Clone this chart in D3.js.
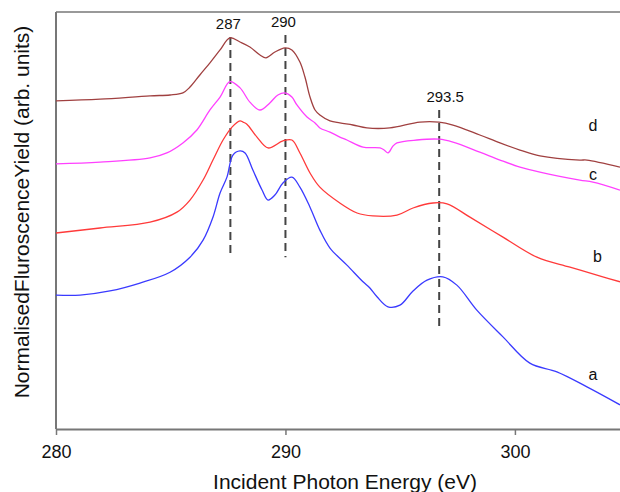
<!DOCTYPE html>
<html lang="en">
<head>
<meta charset="UTF-8">
<script src="https://d3js.org/d3.v7.min.js"></script>
<style>
  body { margin: 0; background: #fff; }
  svg { display: block; font-family: "Liberation Sans", Arial, sans-serif; }
</style>
</head>
<body>
<div id="chart"></div>
<script>
// energy (eV) vs normalised yield (arb. units)
const curveA = [
  [280.00, 3.21], [281.05, 3.21], [282.35, 3.31], [283.66, 3.50], [284.97, 3.76],
  [285.84, 4.12], [286.41, 4.53], [286.84, 5.08], [287.15, 5.66], [287.45, 6.04],
  [287.71, 6.57], [288.02, 6.67], [288.24, 6.62], [288.58, 6.21], [288.98, 5.73],
  [289.24, 5.49], [289.54, 5.61], [289.89, 5.90], [290.28, 6.04], [290.63, 5.80],
  [291.07, 5.32], [291.50, 4.77], [291.94, 4.34], [292.68, 3.93], [293.38, 3.53],
  [293.68, 3.38], [293.99, 3.17], [294.47, 2.93], [294.99, 2.97], [295.56, 3.31],
  [296.17, 3.57], [296.86, 3.65], [297.47, 3.45], [298.34, 2.85], [299.48, 2.21],
  [300.65, 1.58], [301.83, 1.37], [303.14, 1.01], [304.58, 0.58]
];
const curveB = [
  [280.00, 4.70], [281.92, 4.82], [284.10, 4.96], [285.27, 5.20], [285.84, 5.49],
  [286.41, 5.97], [286.84, 6.45], [287.28, 6.93], [287.67, 7.24], [288.02, 7.39],
  [288.15, 7.36], [288.32, 7.31], [288.76, 7.00], [289.24, 6.74], [289.89, 6.91],
  [290.28, 6.93], [290.63, 6.62], [291.07, 6.14], [291.50, 5.80], [292.37, 5.42],
  [293.12, 5.18], [293.81, 5.11], [294.86, 5.13], [295.56, 5.30], [296.43, 5.42],
  [297.04, 5.40], [298.04, 5.08], [299.48, 4.60], [300.96, 4.12], [302.40, 3.88],
  [303.83, 3.65], [304.58, 3.53]
];
const curveC = [
  [280.00, 6.36], [281.92, 6.40], [284.10, 6.50], [284.83, 6.62], [285.53, 6.86],
  [286.14, 7.17], [286.71, 7.65], [287.15, 7.96], [287.58, 8.33], [288.02, 8.18],
  [288.45, 7.84], [288.89, 7.65], [289.32, 7.82], [289.67, 8.01], [289.98, 8.06],
  [290.28, 7.96], [290.50, 7.77], [290.94, 7.48], [291.29, 7.34], [291.50, 7.22],
  [291.94, 7.12], [292.37, 7.00], [292.68, 6.93], [293.38, 6.76], [294.12, 6.74],
  [294.30, 6.69], [294.47, 6.62], [294.68, 6.78], [294.86, 6.86], [295.73, 6.93],
  [296.69, 6.95], [297.30, 6.88], [298.47, 6.64], [299.35, 6.45], [300.22, 6.28],
  [301.09, 6.16], [302.83, 5.97], [303.40, 5.92], [304.58, 5.73]
];
const curveD = [
  [280.00, 7.87], [281.92, 7.91], [284.10, 7.99], [284.97, 8.01], [285.53, 8.06],
  [285.84, 8.20], [286.27, 8.49], [286.71, 8.78], [287.15, 9.09], [287.58, 9.38],
  [288.02, 9.28], [288.45, 9.16], [288.89, 8.97], [289.15, 8.90], [289.54, 9.04],
  [289.98, 9.14], [290.28, 9.09], [290.63, 8.80], [290.85, 8.44], [291.07, 7.96],
  [291.29, 7.65], [291.50, 7.53], [291.94, 7.39], [292.37, 7.34], [292.94, 7.29],
  [293.55, 7.22], [294.55, 7.22], [295.86, 7.36], [296.69, 7.36], [297.30, 7.29],
  [298.47, 7.05], [299.35, 6.86], [300.22, 6.69], [301.09, 6.55], [302.83, 6.45],
  [303.14, 6.45], [304.58, 6.28]
];

const seriesNames = ["a", "b", "c", "d"];
const seriesColors = ["#3a3aff", "#ff3a3a", "#ff40ff", "#a04040"];
// where each curve letter sits: [energy, yield]
const letterPos = [[303.4, 1.18], [303.6, 4.0], [303.4, 5.98], [303.4, 7.15]];

const xTicks = [280, 290, 300];
// dashed peak markers: energy, label, top & bottom yield
const markerEnergy = [287.6, 290.0, 296.7];
const markerLabels = ["287", "290", "293.5"];
const markerTop = [9.40, 9.45, 7.65];
const markerBottom = [4.12, 4.12, 2.37];

const width = 620, height = 492;
const margin = { top: 12, right: 0, bottom: 63, left: 56 };

const svg = d3.select("#chart").append("svg")
  .attr("width", width).attr("height", height);

const x = d3.scaleLinear().domain([280, 304.58]).range([margin.left, width - margin.right]);
const y = d3.scaleLinear().domain([0, 10]).range([height - margin.bottom, margin.top]);

// frame: top line
svg.append("line")
  .attr("x1", margin.left).attr("x2", width)
  .attr("y1", margin.top).attr("y2", margin.top)
  .attr("stroke", "#777").attr("stroke-width", 1.5);

// x axis
const xAxis = svg.append("g")
  .attr("transform", `translate(0,${height - margin.bottom})`)
  .call(d3.axisBottom(x).tickValues(xTicks).tickSize(6).tickSizeOuter(0));
xAxis.select(".domain").attr("stroke", "#777").attr("stroke-width", 2);
xAxis.selectAll(".tick line").attr("stroke", "#777").attr("stroke-width", 1.5);
xAxis.selectAll(".tick text")
  .attr("fill", "#111").attr("font-size", 18).attr("y", 16)
  .attr("font-family", "Liberation Sans, Arial, sans-serif");

// y axis (no ticks)
svg.append("line")
  .attr("x1", margin.left).attr("x2", margin.left)
  .attr("y1", margin.top).attr("y2", height - margin.bottom)
  .attr("stroke", "#777").attr("stroke-width", 2);

// dashed markers
markerEnergy.forEach((e, i) => {
  svg.append("line")
    .attr("x1", x(e)).attr("x2", x(e))
    .attr("y1", y(markerTop[i])).attr("y2", y(markerBottom[i]))
    .attr("stroke", "#444").attr("stroke-width", 2)
    .attr("stroke-dasharray", "8,5");
  svg.append("text")
    .attr("x", x(e) + (i === 2 ? 6 : -2))
    .attr("y", y(markerTop[i]) - 8)
    .attr("text-anchor", "middle")
    .attr("font-size", 15).attr("fill", "#111")
    .text(markerLabels[i]);
});

// curves
const line = d3.line().x(d => x(d[0])).y(d => y(d[1])).curve(d3.curveCatmullRom.alpha(0.5));
[curveA, curveB, curveC, curveD].forEach((c, i) => {
  svg.append("path")
    .datum(c)
    .attr("fill", "none")
    .attr("stroke", seriesColors[i])
    .attr("stroke-width", 1.3)
    .attr("d", line);
  svg.append("text")
    .attr("x", x(letterPos[i][0])).attr("y", y(letterPos[i][1]))
    .attr("text-anchor", "middle")
    .attr("font-size", 16).attr("fill", "#111")
    .text(seriesNames[i]);
});

// axis titles
svg.append("text")
  .attr("x", 345).attr("y", 489)
  .attr("text-anchor", "middle")
  .attr("font-size", 21).attr("fill", "#111")
  .text("Incident Photon Energy (eV)");

svg.append("text")
  .attr("transform", "translate(29,212) rotate(-90)")
  .attr("text-anchor", "middle")
  .attr("font-size", 21).attr("fill", "#111")
  .text("NormalisedFluroscenceYield (arb. units)");
</script>
</body>
</html>
